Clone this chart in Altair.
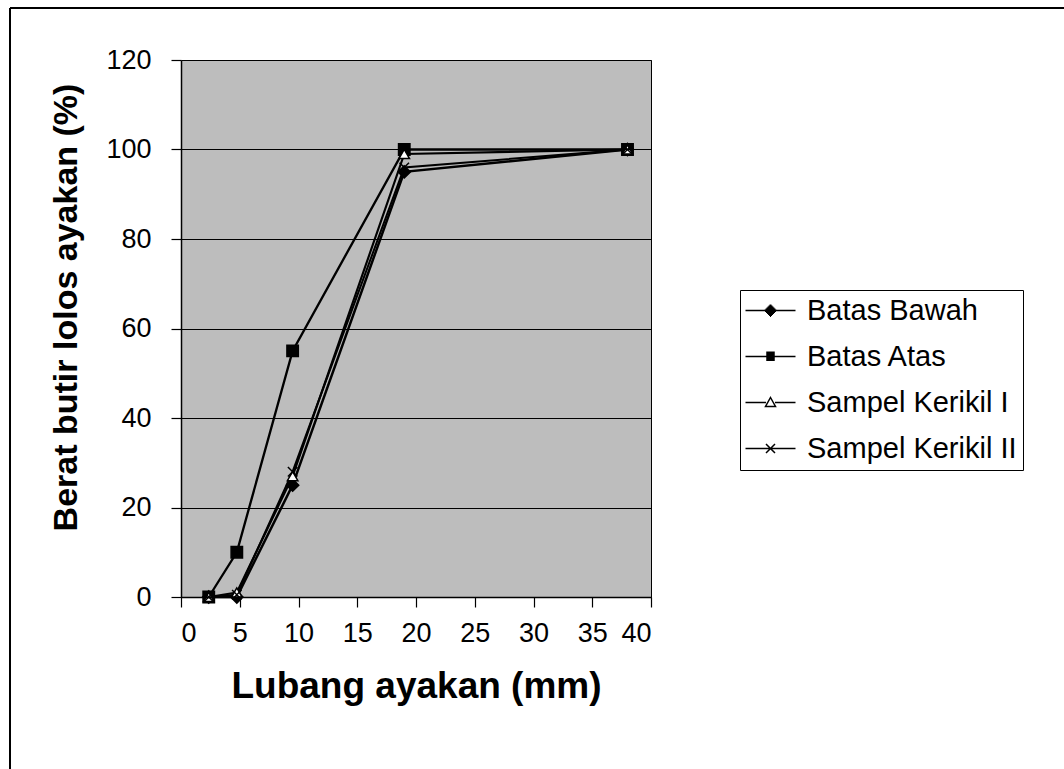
import altair as alt
import pandas as pd

sieve_mm = [2.36, 4.75, 9.5, 19, 38]
series_names = ["Batas Bawah", "Batas Atas", "Sampel Kerikil I", "Sampel Kerikil II"]
batas_bawah = [0, 0, 25, 95, 100]
batas_atas = [0, 10, 55, 100, 100]
sampel_1 = [0, 1, 27, 99, 100]
sampel_2 = [0, 0.5, 28, 96, 100]

values = [batas_bawah, batas_atas, sampel_1, sampel_2]
rows = []
for name, ys in zip(series_names, values):
    for x, y in zip(sieve_mm, ys):
        rows.append({"series": name, "x": x, "y": y})
df = pd.DataFrame(rows)

FONT = "Liberation Sans"

plot_shapes = ["diamond", "square", "triangle-up", "M-1,-1L1,1M-1,1L1,-1"]
plot_sizes = [150, 90, 90, 110]
fills = ["black", "black", "white", "transparent"]
line_widths = [2.5, 2, 1.5, 2]


def hatch(half_w_fn, r, step=0.2):
    # solid-looking glyph drawn with dense horizontal strokes
    parts = []
    n = int(round(2 * r / step))
    for i in range(n + 1):
        yy = -r + i * step
        hw = half_w_fn(yy)
        if hw > 0.01:
            parts.append(f"M{-hw:.2f},{yy:.2f}H{hw:.2f}")
    return "".join(parts)


legend_paths = [
    "M-5,0H5" + hatch(lambda yy: 1.25 - abs(yy), 1.25),
    "M-5,0H5" + hatch(lambda yy: 0.85, 0.85),
    "M-5,0H-0.9M0.9,0H5M0,-1L1,0.8H-1Z",
    "M-5,0H5M-0.9,-0.9L0.9,0.9M-0.9,0.9L0.9,-0.9",
]

x_enc = alt.X("x:Q", scale=alt.Scale(domain=[0, 40], nice=False),
              axis=alt.Axis(title="Lubang ayakan (mm)", values=[0, 5, 10, 15, 20, 25, 30, 35, 40],
                            grid=False, labelPadding=13, titleY=100, titleBaseline="alphabetic",
                            titleFontSize=37, zindex=1))
y_enc = alt.Y("y:Q", scale=alt.Scale(domain=[0, 120], nice=False),
              axis=alt.Axis(title="Berat butir lolos ayakan (%)", values=[0, 20, 40, 60, 80, 100, 120],
                            grid=True, labelPadding=20, titleX=-115, titleY=247,
                            titleAngle=270, titleBaseline="middle", titleAlign="center",
                            titleFontSize=34, zindex=1))

base = alt.Chart(df)

panel = alt.Chart(alt.Data(values=[{}])).mark_rect(color="#bdbdbd").encode(
    x=alt.datum(0), x2=alt.datum(40), y=alt.datum(0), y2=alt.datum(120)
)

lines = base.mark_line(color="black").encode(
    x=x_enc, y=y_enc,
    detail="series:N",
    strokeWidth=alt.StrokeWidth("series:N", scale=alt.Scale(domain=series_names, range=line_widths), legend=None),
)

points = base.mark_point(color="black", opacity=1, strokeWidth=1.5).encode(
    x="x:Q", y="y:Q",
    shape=alt.Shape("series:N", scale=alt.Scale(domain=series_names, range=plot_shapes), legend=None),
    fill=alt.Fill("series:N", scale=alt.Scale(domain=series_names, range=fills), legend=None),
    size=alt.Size("series:N", scale=alt.Scale(domain=series_names, range=plot_sizes), legend=None),
)

legend_layer = alt.Chart(pd.DataFrame({"legend": series_names})).transform_filter("false").mark_point(
    color="black", filled=False, opacity=1
).encode(
    shape=alt.Shape("legend:N", scale=alt.Scale(domain=series_names, range=legend_paths),
                    legend=alt.Legend(title=None)),
)

frame = alt.Chart(alt.Data(values=[{}]))
frame_top = frame.mark_rule(color="black", strokeWidth=2).encode(
    x=alt.value(-171), x2=alt.value(1064 - 181), y=alt.value(-52))
frame_left = frame.mark_rule(color="black", strokeWidth=2).encode(
    x=alt.value(-171), y=alt.value(-52), y2=alt.value(769 - 60))

chart = alt.layer(panel, frame_top, frame_left, lines, points, legend_layer).resolve_scale(
    shape="independent"
).properties(
    width=470, height=537,
    autosize=alt.AutoSizeParams(type="none"),
    padding={"left": 181, "top": 60, "right": 413, "bottom": 172},
    background="white",
).configure_view(
    stroke="black", strokeWidth=1
).configure_axis(
    labelFont=FONT, titleFont=FONT, labelFontSize=27,
    labelColor="black", titleColor="black", titleFontWeight="bold",
    domainColor="black", domainWidth=1.5, tickColor="black", tickSize=10, tickWidth=1.2,
    gridColor="black", gridWidth=1.2, gridOpacity=1,
).configure_legend(
    orient="none", legendX=559, legendY=230,
    padding=6, strokeColor="black", fillColor="white",
    labelFont=FONT, labelFontSize=29, labelColor="black", labelLimit=400,
    symbolSize=100, symbolOffset=10, labelOffset=22, rowPadding=16,
    symbolStrokeColor="black", symbolStrokeWidth=1.5,
)

chart.save("out.html", embed_options={"renderer": "svg", "actions": False})
